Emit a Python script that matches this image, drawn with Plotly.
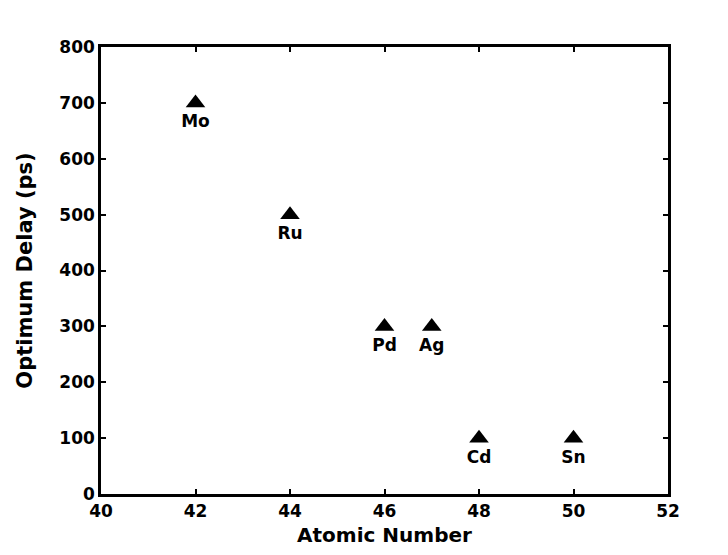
import plotly.graph_objects as go

elements = ["Mo", "Ru", "Pd", "Ag", "Cd", "Sn"]
atomic_number = [42, 44, 46, 47, 48, 50]
optimum_delay_ps = [700, 500, 300, 300, 100, 100]

x_ticks = [40, 42, 44, 46, 48, 50, 52]
y_ticks = [0, 100, 200, 300, 400, 500, 600, 700, 800]

font_family = "DejaVu Sans, Liberation Sans, Arial, sans-serif"

fig = go.Figure()
fig.add_trace(go.Scatter(
    x=atomic_number, y=optimum_delay_ps, text=elements,
    mode="markers+text", textposition="bottom center",
    marker=dict(symbol="triangle-up", size=17, color="black"),
    textfont=dict(family=font_family, size=17, color="black", weight="bold"),
    showlegend=False, cliponaxis=False,
))

axis_common = dict(
    showgrid=False, zeroline=False, showline=True, linecolor="black", linewidth=2.5,
    mirror="ticks", ticks="inside", ticklen=5, tickwidth=2, tickcolor="black",
    automargin=False,
    tickfont=dict(family=font_family, size=17, color="black", weight="bold"),
)

fig.update_xaxes(range=[40, 52], tickvals=x_ticks,
                 title=dict(text="Atomic Number", standoff=8,
                            font=dict(family=font_family, size=20, color="black", weight="bold")),
                 **axis_common)
fig.update_yaxes(range=[0, 800], tickvals=y_ticks,
                 title=dict(text="Optimum Delay (ps)", standoff=21,
                            font=dict(family=font_family, size=21, color="black", weight="bold")),
                 **axis_common)

fig.update_layout(
    width=728, height=555,
    margin=dict(l=93, r=68, t=39, b=69),
    plot_bgcolor="white", paper_bgcolor="white",
)

fig.write_html("out.html")
